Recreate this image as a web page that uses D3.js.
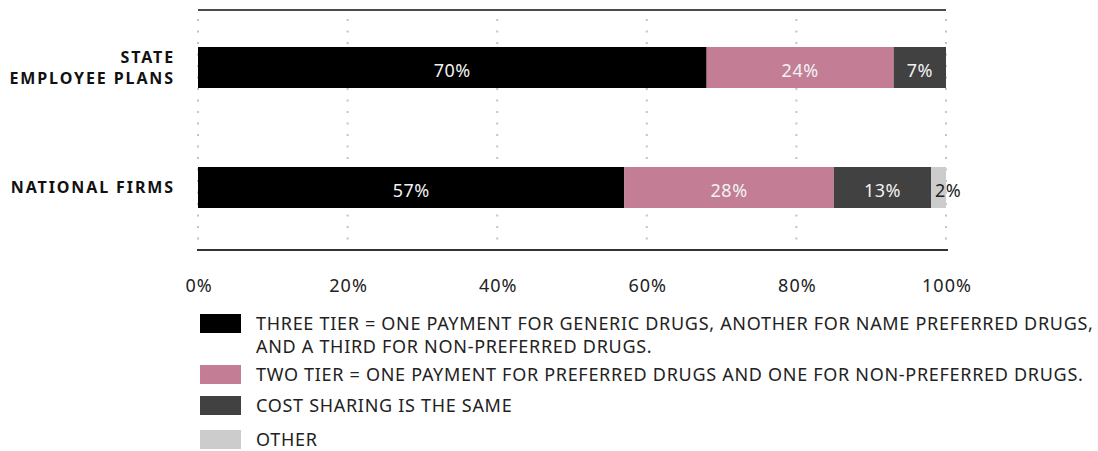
<!DOCTYPE html>
<meta charset="UTF-8">
<style>
  body { margin: 0; background: #fff; }
  svg text { font-family: "Noto Sans", "Open Sans", sans-serif; }
  .cat { font-weight: bold; font-size: 16px; fill: #111; letter-spacing: 1.9px; }
  .tick text { font-size: 18px; fill: #222; font-family: "Noto Sans", sans-serif; letter-spacing: 1px; }
  .seg-label { font-size: 18px; letter-spacing: 0.5px; }
  .legend text { font-size: 18px; fill: #222; letter-spacing: 0.7px; }
  .grid line { stroke: #c4c4c4; stroke-width: 2px; stroke-dasharray: 2 9.5; }
</style>
<body>
<script src="https://d3js.org/d3.v7.min.js"></script>
<script>

// categories, top to bottom
var categories = ["STATE EMPLOYEE PLANS", "NATIONAL FIRMS"];
var categoryLines = [["STATE", "EMPLOYEE PLANS"], ["NATIONAL FIRMS"]];

// series (bar lengths as drawn, in %)
var series = ["three", "two", "same", "other"];
var threeTier = [68, 57];
var twoTier   = [25, 28];
var sameCost  = [7, 13];
var otherVals = [0, 2];

// printed labels on the segments
var threeLabels = ["70%", "57%"];
var twoLabels   = ["24%", "28%"];
var sameLabels  = ["7%", "13%"];
var otherLabels = ["", "2%"];

var colors = ["#000000", "#c37e96", "#414141", "#cccccc"];
var tickValues = [0, 20, 40, 60, 80, 100];

var legendLabels = [
  ["THREE TIER = ONE PAYMENT FOR GENERIC DRUGS, ANOTHER FOR NAME PREFERRED DRUGS,",
   "AND A THIRD FOR NON-PREFERRED DRUGS."],
  ["TWO TIER = ONE PAYMENT FOR PREFERRED DRUGS AND ONE FOR NON-PREFERRED DRUGS."],
  ["COST SHARING IS THE SAME"],
  ["OTHER"]
];

var width = 1098, height = 451;

var svg = d3.select("body").append("svg")
    .attr("width", width)
    .attr("height", height);

var x = d3.scaleLinear().domain([0, 100]).range([198, 946]);
var y = d3.scalePoint().domain(categories).range([7.5, 247.5]).padding(0.5);
var barH = 41;

// build rows
var rows = categories.map(function(c, i) {
  return {
    cat: c,
    three: threeTier[i], two: twoTier[i], same: sameCost[i], other: otherVals[i],
    labels: [threeLabels[i], twoLabels[i], sameLabels[i], otherLabels[i]]
  };
});

// dotted grid
svg.append("g").attr("class", "grid")
  .selectAll("line")
  .data(tickValues)
  .join("line")
    .attr("x1", function(d) { return x(d); })
    .attr("x2", function(d) { return x(d); })
    .attr("y1", 19)
    .attr("y2", 250);

// top and bottom rules
svg.append("line")
    .attr("x1", x(0)).attr("x2", x(100))
    .attr("y1", 10).attr("y2", 10)
    .attr("stroke", "#111").attr("stroke-width", 1.5);
svg.append("line")
    .attr("x1", x(0) - 1).attr("x2", x(100) + 2)
    .attr("y1", 250).attr("y2", 250)
    .attr("stroke", "#333").attr("stroke-width", 2);

// stacked bars
var stacked = d3.stack().keys(series)(rows);

var layer = svg.append("g").selectAll("g")
  .data(stacked)
  .join("g")
    .attr("fill", function(d, i) { return colors[i]; });

layer.selectAll("rect")
  .data(function(d) { return d; })
  .join("rect")
    .attr("x", function(d) { return x(d[0]); })
    .attr("width", function(d) { return x(d[1]) - x(d[0]); })
    .attr("y", function(d) { return y(d.data.cat) - barH / 2; })
    .attr("height", barH);

// segment labels
stacked.forEach(function(s, si) {
  svg.append("g").selectAll("text")
    .data(s)
    .join("text")
      .attr("class", "seg-label")
      .each(function(d) {
        var small = (d[1] - d[0]) < 5;
        d3.select(this)
          .attr("x", small ? x(d[0]) + 4 : (x(d[0]) + x(d[1])) / 2)
          .attr("text-anchor", small ? "start" : "middle")
          .attr("fill", small ? "#222" : "#f2f2f2");
      })
      .attr("y", function(d) { return y(d.data.cat) + 9; })
      .text(function(d) { return d.data.labels[si]; });
});

// category labels
var cat = svg.append("g").selectAll("text")
  .data(categories)
  .join("text")
    .attr("class", "cat")
    .attr("text-anchor", "end")
    .attr("y", function(d, i) {
      return y(d) - (categoryLines[i].length - 1) * 10.5;
    });
cat.selectAll("tspan")
  .data(function(d, i) { return categoryLines[i]; })
  .join("tspan")
    .attr("x", 175)
    .attr("dy", function(d, j) { return j === 0 ? "0.35em" : "21px"; })
    .text(function(d) { return d; });

// x axis labels
var xAxis = d3.axisBottom(x)
    .tickValues(tickValues)
    .tickSize(0)
    .tickFormat(function(d) { return d + "%"; });

svg.append("g")
    .attr("transform", "translate(0,250)")
    .call(xAxis)
    .call(function(g) { g.select(".domain").remove(); })
    .selectAll("text")
      .attr("x", 0.5)
      .attr("y", 41.5)
      .attr("dy", 0);

// legend
var legendTops = [314, 365, 396, 430];
var legend = svg.append("g").attr("class", "legend")
  .selectAll("g")
  .data(legendLabels)
  .join("g")
    .attr("transform", function(d, i) { return "translate(200," + legendTops[i] + ")"; });

legend.append("rect")
    .attr("width", 41)
    .attr("height", 19)
    .attr("fill", function(d, i) { return colors[i]; });

legend.append("text")
  .selectAll("tspan")
  .data(function(d) { return d; })
  .join("tspan")
    .attr("x", 56)
    .attr("y", function(d, j) { return 16 + j * 23; })
    .text(function(d) { return d; });

</script>
</body>
